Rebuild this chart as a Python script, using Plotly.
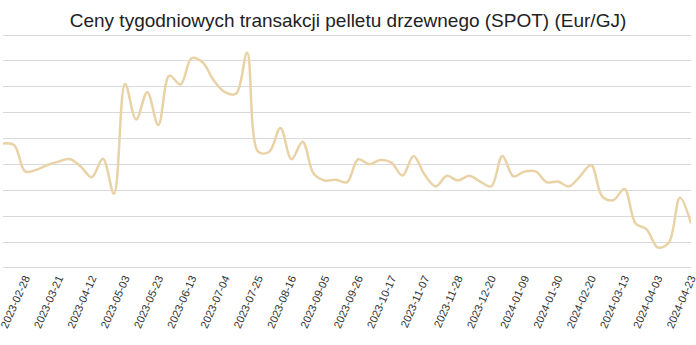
import plotly.graph_objects as go

dates = [
    "2023-02-14", "2023-02-21", "2023-02-28", "2023-03-07", "2023-03-14", "2023-03-21",
    "2023-03-28", "2023-04-04", "2023-04-12", "2023-04-18", "2023-04-25", "2023-05-03",
    "2023-05-09", "2023-05-16", "2023-05-23", "2023-05-30", "2023-06-06", "2023-06-13",
    "2023-06-20", "2023-06-27", "2023-07-04", "2023-07-11", "2023-07-18", "2023-07-25",
    "2023-08-01", "2023-08-08", "2023-08-16", "2023-08-22", "2023-08-29", "2023-09-05",
    "2023-09-12", "2023-09-19", "2023-09-26", "2023-10-03", "2023-10-10", "2023-10-17",
    "2023-10-24", "2023-10-31", "2023-11-07", "2023-11-14", "2023-11-21", "2023-11-28",
    "2023-12-05", "2023-12-12", "2023-12-20", "2023-12-27", "2024-01-02", "2024-01-09",
    "2024-01-16", "2024-01-23", "2024-01-30", "2024-02-06", "2024-02-13", "2024-02-20",
    "2024-02-27", "2024-03-05", "2024-03-13", "2024-03-19", "2024-03-26", "2024-04-03",
    "2024-04-09", "2024-04-16", "2024-04-23",
]

prices = [
    14.81, 14.75, 13.73, 13.79, 13.98, 14.11, 14.21, 13.92, 13.51, 14.22, 12.87,
    17.11, 15.74, 16.79, 15.52, 17.43, 17.09, 18.11, 17.94, 17.24, 16.79, 16.73,
    18.32, 14.49, 14.49, 15.41, 14.20, 14.88, 13.64, 13.38, 13.41, 13.31, 14.20,
    14.01, 14.17, 14.07, 13.57, 14.33, 13.60, 13.15, 13.56, 13.38, 13.56, 13.34,
    13.15, 14.33, 13.54, 13.73, 13.73, 13.31, 13.34, 13.15, 13.54, 13.98, 12.77,
    12.62, 13.05, 11.72, 11.49, 10.79, 10.98, 12.71, 11.72,
]

tick_labels = [
    "2023-02-28", "2023-03-21", "2023-04-12", "2023-05-03", "2023-05-23", "2023-06-13",
    "2023-07-04", "2023-07-25", "2023-08-16", "2023-09-05", "2023-09-26", "2023-10-17",
    "2023-11-07", "2023-11-28", "2023-12-20", "2024-01-09", "2024-01-30", "2024-02-20",
    "2024-03-13", "2024-04-03", "2024-04-23",
]

grid_vals = [10, 11, 12, 13, 14, 15, 16, 17, 18, 19]

fig = go.Figure()
fig.add_trace(go.Scatter(
    x=dates, y=prices, mode="lines",
    line=dict(color="#e9d3a6", width=2.5, shape="spline", smoothing=1.0),
    hoverinfo="x+y", showlegend=False,
))

fig.update_layout(
    width=696, height=345,
    margin=dict(l=3, r=5, t=34, b=76),
    paper_bgcolor="white", plot_bgcolor="white",
    title=dict(
        text="Ceny tygodniowych transakcji pelletu drzewnego (SPOT) (Eur/GJ)",
        x=0.5, xanchor="center", y=0.94, yanchor="middle",
        font=dict(family="Liberation Sans, Arial, sans-serif", size=19, color="#222222"),
    ),
    xaxis=dict(
        type="category", range=[0, len(dates) - 1], automargin=False,
        tickmode="array", tickvals=tick_labels, ticktext=tick_labels,
        tickangle=-66, showgrid=False, zeroline=False, showline=False,
        ticks="", tickfont=dict(family="Liberation Sans, Arial, sans-serif", size=11, color="#333333"),
    ),
    yaxis=dict(
        range=[9.96, 19.04], automargin=False,
        tickmode="array", tickvals=grid_vals, showticklabels=False,
        showgrid=True, gridcolor="#d9d9d9", gridwidth=1,
        zeroline=False, showline=False, ticks="",
    ),
)

fig.write_html("out.html")
